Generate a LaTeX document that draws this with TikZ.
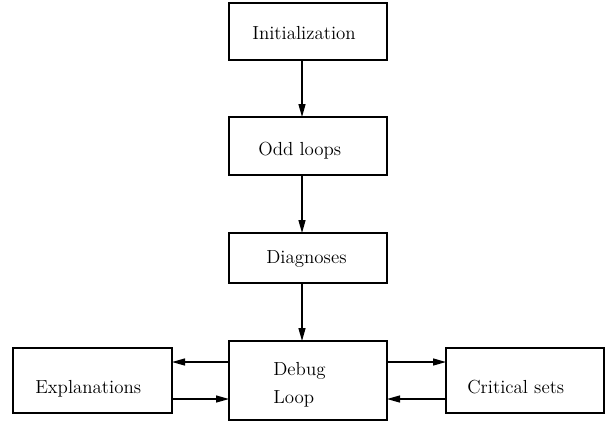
\documentclass[tikz,border=0pt]{standalone}
\usetikzlibrary{arrows.meta}
\begin{document}
\begin{tikzpicture}[x=0.6pt,y=-0.6pt,
  box/.style={draw,line width=0.8pt,rectangle,inner sep=0pt,outer sep=0pt},
  lbl/.style={anchor=base west,inner sep=0pt,font=\fontsize{11.35}{13.5}\selectfont},
  arr/.style={line width=0.8pt,-{Triangle[length=7.8pt,width=4.2pt]}}]
\useasboundingbox (0,0) rectangle (611,426);
% boxes
\node[box,minimum width=158*0.6pt,minimum height=57*0.6pt] (init) at (308,31.5) {};
\node[box,minimum width=158*0.6pt,minimum height=58*0.6pt] (odd) at (308,146) {};
\node[box,minimum width=158*0.6pt,minimum height=50*0.6pt] (diag) at (308,258) {};
\node[box,minimum width=158*0.6pt,minimum height=79*0.6pt] (debug) at (308,380.5) {};
\node[box,minimum width=159*0.6pt,minimum height=65*0.6pt] (expl) at (92.5,380.5) {};
\node[box,minimum width=158*0.6pt,minimum height=65*0.6pt] (crit) at (525,380.5) {};
% texts
\node[lbl] (tinit) at (252,39) {Initialization};
\node[lbl] (todd) at (258,155) {Odd loops};
\node[lbl] (tdiag) at (266,263) {Diagnoses};
\node[lbl] (tdebug) at (273,375) {Debug};
\node[lbl] (tloop) at (273,403) {Loop};
\node[lbl] (texpl) at (35,393) {Explanations};
\node[lbl] (tcrit) at (467,393) {Critical sets};
% helper coordinates
\coordinate (cx) at (302,0);
\coordinate (yu) at (0,362);
\coordinate (yl) at (0,399);
% connectors
\draw[arr] (init.south -| cx) -- (odd.north -| cx);
\draw[arr] (odd.south -| cx) -- (diag.north -| cx);
\draw[arr] (diag.south -| cx) -- (debug.north -| cx);
\draw[arr] (debug.west |- yu) -- (expl.east |- yu);
\draw[arr] (expl.east |- yl) -- (debug.west |- yl);
\draw[arr] (debug.east |- yu) -- (crit.west |- yu);
\draw[arr] (crit.west |- yl) -- (debug.east |- yl);
\end{tikzpicture}
\end{document}
